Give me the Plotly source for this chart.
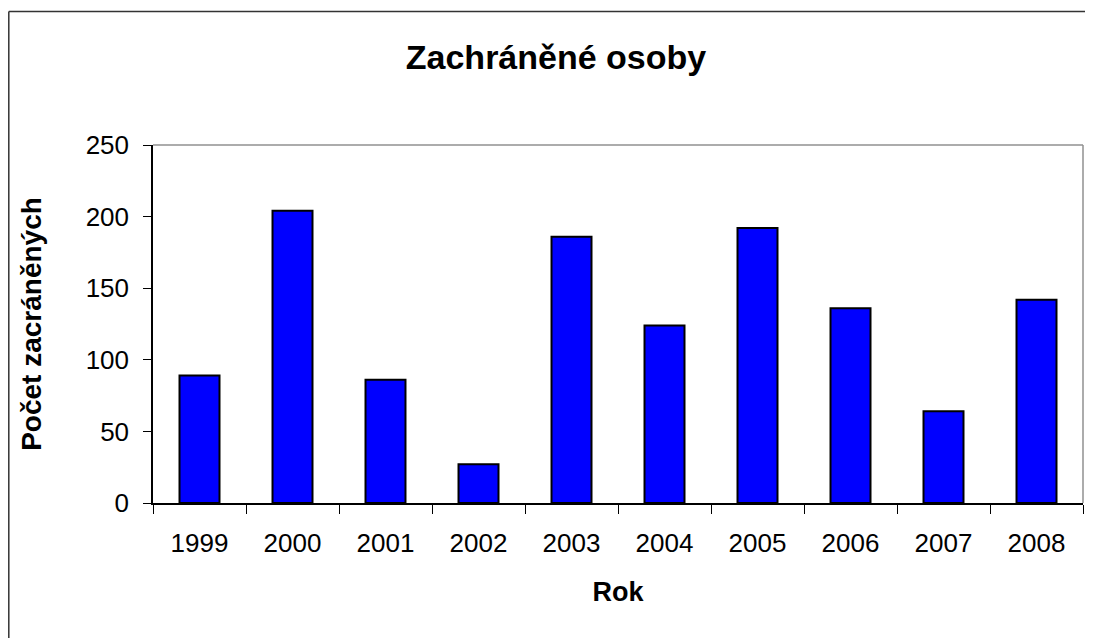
import plotly.graph_objects as go

years = ["1999", "2000", "2001", "2002", "2003", "2004", "2005", "2006", "2007", "2008"]
rescued = [89, 204, 86, 27, 186, 124, 192, 136, 64, 142]
y_ticks = [0, 50, 100, 150, 200, 250]

FONT = "Liberation Sans, Arial, sans-serif"

fig = go.Figure()
fig.add_trace(go.Bar(
    x=years, y=rescued,
    marker=dict(color="#0000FF", line=dict(color="#000000", width=2)),
    showlegend=False,
))

# page body has an 8px margin, so figure coords = screen coords - 8
W, H = 1085, 630
L, R, T, B = 145, 10, 137, 135
pw, ph = W - L - R, H - T - B

fig.update_layout(
    width=W, height=H,
    margin=dict(l=L, r=R, t=T, b=B),
    paper_bgcolor="white", plot_bgcolor="white",
    bargap=0.57,
    font=dict(family=FONT, color="black", size=26),
    title=dict(text="<b>Zachráněné osoby</b>", x=548 / W, xref="container",
               xanchor="center", y=1 - 49 / H, yref="container", yanchor="middle",
               font=dict(size=34, family=FONT, color="black")),
    xaxis=dict(
        type="category", showline=True, linecolor="black", linewidth=1.5,
        ticks="outside", tickson="boundaries", ticklen=9, tickcolor="black", tickwidth=1,
        tickfont=dict(size=26, family=FONT), ticklabelstandoff=16,
        title=dict(text="<b>Rok</b>", font=dict(size=27, family=FONT), standoff=25),
        showgrid=False,
    ),
    yaxis=dict(
        range=[0, 250], tickvals=y_ticks, showline=True, linecolor="black", linewidth=1.5,
        ticks="outside", ticklen=8, tickcolor="black", tickwidth=1,
        tickfont=dict(size=26, family=FONT), ticklabelstandoff=9,
        title=dict(text="<b>Počet zacráněných</b>", font=dict(size=28, family=FONT), standoff=36),
        showgrid=False, zeroline=False,
    ),
)

# gray top and right border of plot area
fig.add_shape(type="line", xref="paper", yref="paper", x0=0, x1=1, y0=1, y1=1,
              line=dict(color="#909090", width=1.5))
fig.add_shape(type="line", xref="paper", yref="paper", x0=1, x1=1, y0=0, y1=1,
              line=dict(color="#909090", width=1.5))

# outer chart frame (top and left visible)
fx0 = (0.8 - L) / pw
fy1 = (H - B - 3.5) / ph
fig.add_shape(type="line", xref="paper", yref="paper", x0=fx0, x1=(W + 20 - L) / pw, y0=fy1, y1=fy1,
              line=dict(color="#333333", width=1.5))
fig.add_shape(type="line", xref="paper", yref="paper", x0=fx0, x1=fx0, y0=fy1, y1=-(B + 20) / ph,
              line=dict(color="#333333", width=1.5))

fig.write_html("out.html")
